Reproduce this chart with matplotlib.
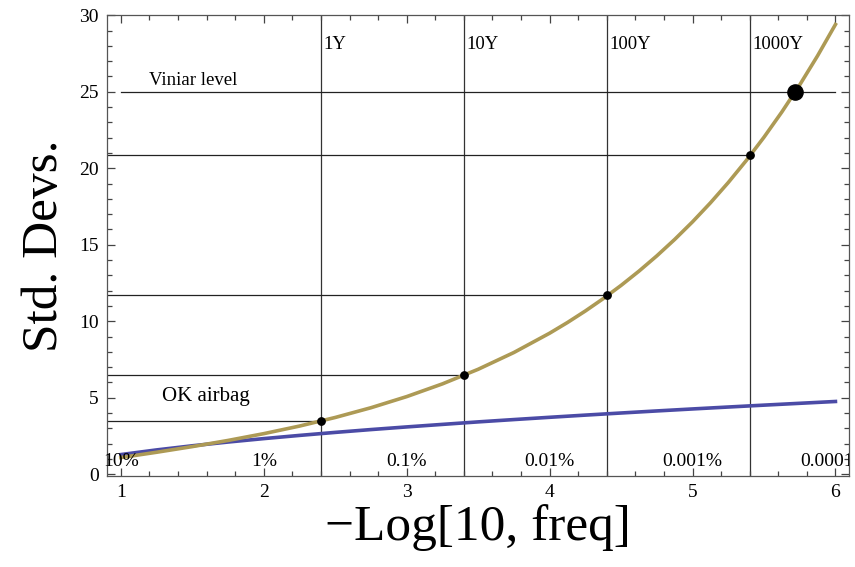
import matplotlib
matplotlib.use("Agg")
import matplotlib.pyplot as plt
from matplotlib.ticker import MultipleLocator

# data
log_freq = [1.0, 1.25, 1.5, 1.75, 2.0, 2.25, 2.5, 2.75, 3.0, 3.25, 3.5,
            3.75, 4.0, 4.125, 4.25, 4.375, 4.5, 4.625, 4.75, 4.875, 5.0,
            5.125, 5.25, 5.375, 5.5, 5.625, 5.75, 5.875, 6.0]
fat_tail = [1.087, 1.434, 1.804, 2.206, 2.650, 3.146, 3.708, 4.345, 5.072,
            5.904, 6.858, 7.955, 9.217, 9.917, 10.669, 11.476, 12.342,
            13.273, 14.272, 15.346, 16.498, 17.737, 19.066, 20.495, 22.030,
            23.680, 25.451, 27.354, 29.400]
normal_x = [1.0, 1.25, 1.5, 1.75, 2.0, 2.25, 2.5, 2.75, 3.0, 3.25, 3.5,
            3.75, 4.0, 4.25, 4.5, 4.75, 5.0, 5.25, 5.5, 5.75, 6.0]
normal = [1.282, 1.587, 1.857, 2.102, 2.326, 2.535, 2.732, 2.917, 3.090,
          3.255, 3.419, 3.571, 3.719, 3.862, 4.000, 4.135, 4.265, 4.391,
          4.514, 4.634, 4.753]

year_x = [2.4, 3.4, 4.4, 5.4]
year_y = [3.5, 6.5, 11.7, 20.9]
year_labels = ["1Y", "10Y", "100Y", "1000Y"]

pct_x = [1, 2, 3, 4, 5, 6]
pct_labels = ["10%", "1%", "0.1%", "0.01%", "0.001%", "0.0001%"]

viniar_x = 5.72
viniar_y = 25

plt.rcParams['font.family'] = ['Liberation Serif', 'DejaVu Serif']

fig = plt.figure(figsize=(8.55, 5.67), dpi=100)
ax = fig.add_axes([0.125, 0.161, 0.868, 0.812])

# reference lines
for i in range(len(year_x)):
    ax.plot([year_x[i], year_x[i]], [-0.1, 30], color='#333333', lw=0.9, zorder=1)
    ax.plot([0.902, year_x[i]], [year_y[i], year_y[i]], color='#222222', lw=0.9, zorder=1)
    ax.text(year_x[i] + 0.02, 28.1, year_labels[i], fontsize=13.5, ha='left', va='center')
ax.plot([1, 6], [viniar_y, viniar_y], color='#222222', lw=0.9, zorder=1)

# curves
ax.plot(normal_x, normal, color='#4B4BA6', lw=2.6, zorder=2)
ax.plot(log_freq, fat_tail, color='#AD9A55', lw=2.6, zorder=3)

# points
ax.scatter(year_x, year_y, s=28, color='black', zorder=4)
ax.scatter([viniar_x], [viniar_y], s=120, color='black', zorder=4)

ax.text(1.195, 25.15, "Viniar level", fontsize=13.5, ha='left', va='bottom')
ax.text(1.29, 5.1, "OK airbag", fontsize=15, ha='left', va='center')
for i in range(len(pct_x)):
    ax.text(pct_x[i], 0.8, pct_labels[i], fontsize=14, ha='center', va='center',
            clip_on=(i == len(pct_x) - 1))

ax.set_xlim(0.902, 6.095)
ax.set_ylim(-0.1, 30)
ax.xaxis.set_major_locator(MultipleLocator(1))
ax.xaxis.set_minor_locator(MultipleLocator(0.2))
ax.yaxis.set_major_locator(MultipleLocator(5))
ax.yaxis.set_minor_locator(MultipleLocator(1))
ax.tick_params(which='both', direction='in', top=True, right=True,
               color='#444444', labelsize=14, width=0.9)
ax.tick_params(which='major', length=6, pad=6)
ax.tick_params(which='minor', length=3.5)
for s in ax.spines.values():
    s.set_color('#555555')
    s.set_linewidth(0.9)

ax.set_xlabel("\u2212Log[10, freq]", fontsize=37, labelpad=2)
ax.set_ylabel("Std. Devs.", fontsize=37, labelpad=8)

fig.savefig("out.png", dpi=100)
